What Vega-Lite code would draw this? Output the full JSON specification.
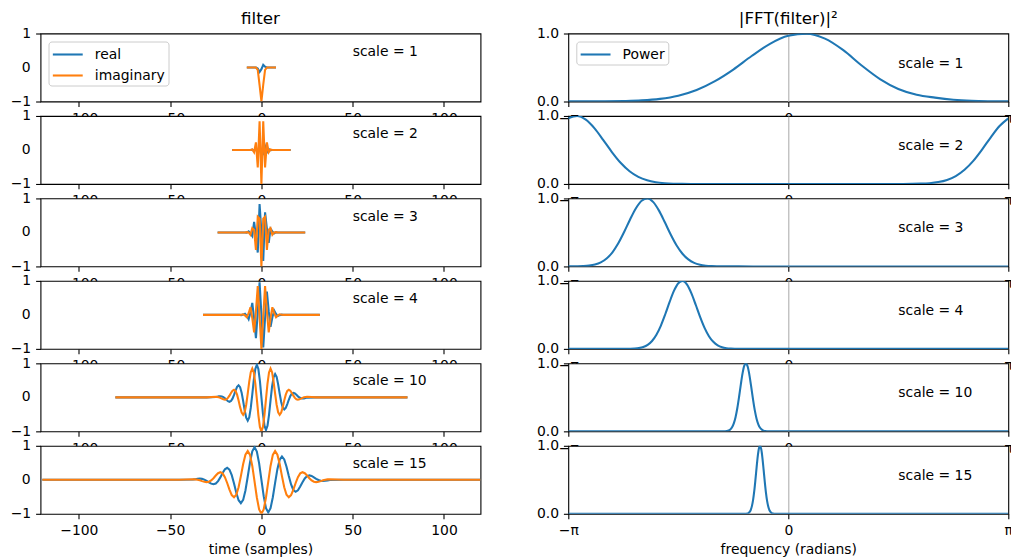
{
"$schema": "https://vega.github.io/schema/vega-lite/v6.json",
"autosize": {"type": "pad"},
"padding": {"left": 9.5, "top": 10.5, "right": 0, "bottom": 0},
"background": "white",
"config": {
  "font": "DejaVu Sans",
  "view": {"stroke": "black", "strokeWidth": 1.1, "fill": "white"},
  "axis": {"domain": false, "grid": false, "tickColor": "black", "tickWidth": 1.1, "tickSize": 4.9, "labelPadding": 4.9, "labelFontSize": 13.9, "labelColor": "black", "labelFont": "DejaVu Sans", "labelFlush": false, "labelOverlap": false, "titleFont": "DejaVu Sans", "titleFontSize": 13.9, "titleFontWeight": "normal", "titleColor": "black", "titlePadding": 5},
  "legend": {"padding": 3, "offset": 7.5, "fillColor": "rgba(255,255,255,0.8)", "strokeColor": "#cccccc", "strokeWidth": 1, "cornerRadius": 3, "symbolType": "M-1,0H2.45", "symbolStrokeWidth": 2.08, "symbolSize": 300, "labelFontSize": 13.9, "labelColor": "black", "labelFont": "DejaVu Sans", "labelOffset": 23.3, "rowPadding": 4},
  "title": {"font": "DejaVu Sans", "fontSize": 16.7, "fontWeight": "normal", "color": "black", "offset": -1.6, "baseline": "alphabetic"}
},
"datasets": {
"filt": [
{"scale":1,"t":-8,"real":0,"imaginary":0},
{"scale":1,"t":-3,"real":0,"imaginary":-0.002},
{"scale":1,"t":-2,"real":-0.032,"imaginary":-0.07},
{"scale":1,"t":-1,"real":-0.132,"imaginary":-0.519},
{"scale":1,"t":0,"real":-0.049,"imaginary":-1},
{"scale":1,"t":1,"real":0.081,"imaginary":-0.507},
{"scale":1,"t":2,"real":0.025,"imaginary":-0.068},
{"scale":1,"t":3,"real":0,"imaginary":-0.002},
{"scale":1,"t":8,"real":0,"imaginary":0},
{"scale":2,"t":-16,"real":0,"imaginary":0},
{"scale":2,"t":-6,"real":0,"imaginary":0},
{"scale":2,"t":-5,"real":0.008,"imaginary":0.016},
{"scale":2,"t":-4,"real":-0.029,"imaginary":-0.069},
{"scale":2,"t":-3,"real":0.071,"imaginary":0.223},
{"scale":2,"t":-2,"real":-0.109,"imaginary":-0.513},
{"scale":2,"t":-1,"real":0.09,"imaginary":0.846},
{"scale":2,"t":0,"real":0,"imaginary":-1},
{"scale":2,"t":1,"real":-0.09,"imaginary":0.846},
{"scale":2,"t":2,"real":0.109,"imaginary":-0.513},
{"scale":2,"t":3,"real":-0.071,"imaginary":0.223},
{"scale":2,"t":4,"real":0.029,"imaginary":-0.069},
{"scale":2,"t":5,"real":-0.008,"imaginary":0.016},
{"scale":2,"t":6,"real":0,"imaginary":0},
{"scale":2,"t":16,"real":0,"imaginary":0},
{"scale":3,"t":-24,"real":0,"imaginary":0},
{"scale":3,"t":-9,"real":0,"imaginary":0},
{"scale":3,"t":-8,"real":-0.005,"imaginary":0.009},
{"scale":3,"t":-7,"real":0.03,"imaginary":0.002},
{"scale":3,"t":-6,"real":-0.029,"imaginary":-0.069},
{"scale":3,"t":-5,"real":-0.108,"imaginary":0.127},
{"scale":3,"t":-4,"real":0.308,"imaginary":0.078},
{"scale":3,"t":-3,"real":-0.109,"imaginary":-0.513},
{"scale":3,"t":-2,"real":-0.591,"imaginary":0.463},
{"scale":3,"t":-1,"real":0.837,"imaginary":0.407},
{"scale":3,"t":0,"real":0,"imaginary":-1},
{"scale":3,"t":1,"real":-0.837,"imaginary":0.407},
{"scale":3,"t":2,"real":0.591,"imaginary":0.463},
{"scale":3,"t":3,"real":0.109,"imaginary":-0.513},
{"scale":3,"t":4,"real":-0.308,"imaginary":0.078},
{"scale":3,"t":5,"real":0.108,"imaginary":0.127},
{"scale":3,"t":6,"real":0.029,"imaginary":-0.069},
{"scale":3,"t":7,"real":-0.03,"imaginary":0.002},
{"scale":3,"t":8,"real":0.005,"imaginary":0.009},
{"scale":3,"t":9,"real":0,"imaginary":0},
{"scale":3,"t":24,"real":0,"imaginary":0},
{"scale":4,"t":-32,"real":0,"imaginary":0},
{"scale":4,"t":-12,"real":0,"imaginary":0},
{"scale":4,"t":-11,"real":-0.006,"imaginary":0.004},
{"scale":4,"t":-10,"real":0.008,"imaginary":0.016},
{"scale":4,"t":-9,"real":0.034,"imaginary":-0.016},
{"scale":4,"t":-8,"real":-0.029,"imaginary":-0.069},
{"scale":4,"t":-7,"real":-0.13,"imaginary":0.048},
{"scale":4,"t":-6,"real":0.071,"imaginary":0.223},
{"scale":4,"t":-5,"real":0.353,"imaginary":-0.094},
{"scale":4,"t":-4,"real":-0.109,"imaginary":-0.513},
{"scale":4,"t":-3,"real":-0.687,"imaginary":0.109},
{"scale":4,"t":-2,"real":0.09,"imaginary":0.846},
{"scale":4,"t":-1,"real":0.959,"imaginary":-0.051},
{"scale":4,"t":0,"real":0,"imaginary":-1},
{"scale":4,"t":1,"real":-0.959,"imaginary":-0.051},
{"scale":4,"t":2,"real":-0.09,"imaginary":0.846},
{"scale":4,"t":3,"real":0.687,"imaginary":0.109},
{"scale":4,"t":4,"real":0.109,"imaginary":-0.513},
{"scale":4,"t":5,"real":-0.353,"imaginary":-0.094},
{"scale":4,"t":6,"real":-0.071,"imaginary":0.223},
{"scale":4,"t":7,"real":0.13,"imaginary":0.048},
{"scale":4,"t":8,"real":0.029,"imaginary":-0.069},
{"scale":4,"t":9,"real":-0.034,"imaginary":-0.016},
{"scale":4,"t":10,"real":-0.008,"imaginary":0.016},
{"scale":4,"t":11,"real":0.006,"imaginary":0.004},
{"scale":4,"t":12,"real":0,"imaginary":0},
{"scale":4,"t":32,"real":0,"imaginary":0},
{"scale":10,"t":-80,"real":0,"imaginary":0},
{"scale":10,"t":-30,"real":0,"imaginary":0},
{"scale":10,"t":-25,"real":0.008,"imaginary":0.016},
{"scale":10,"t":-24.167,"real":0.019,"imaginary":0.012},
{"scale":10,"t":-23.333,"real":0.03,"imaginary":0.002},
{"scale":10,"t":-22.5,"real":0.034,"imaginary":-0.016},
{"scale":10,"t":-21.667,"real":0.028,"imaginary":-0.039},
{"scale":10,"t":-20.833,"real":0.006,"imaginary":-0.06},
{"scale":10,"t":-20,"real":-0.029,"imaginary":-0.069},
{"scale":10,"t":-19.167,"real":-0.074,"imaginary":-0.057},
{"scale":10,"t":-18.333,"real":-0.113,"imaginary":-0.017},
{"scale":10,"t":-17.5,"real":-0.13,"imaginary":0.048},
{"scale":10,"t":-16.667,"real":-0.108,"imaginary":0.127},
{"scale":10,"t":-15.833,"real":-0.039,"imaginary":0.194},
{"scale":10,"t":-15,"real":0.071,"imaginary":0.223},
{"scale":10,"t":-14.167,"real":0.199,"imaginary":0.188},
{"scale":10,"t":-13.333,"real":0.308,"imaginary":0.078},
{"scale":10,"t":-12.5,"real":0.353,"imaginary":-0.094},
{"scale":10,"t":-11.667,"real":0.3,"imaginary":-0.288},
{"scale":10,"t":-10.833,"real":0.138,"imaginary":-0.449},
{"scale":10,"t":-10,"real":-0.109,"imaginary":-0.513},
{"scale":10,"t":-9.167,"real":-0.382,"imaginary":-0.439},
{"scale":10,"t":-8.333,"real":-0.601,"imaginary":-0.218},
{"scale":10,"t":-7.5,"real":-0.687,"imaginary":0.109},
{"scale":10,"t":-6.667,"real":-0.591,"imaginary":0.463},
{"scale":10,"t":-5.833,"real":-0.313,"imaginary":0.74},
{"scale":10,"t":-5,"real":0.09,"imaginary":0.846},
{"scale":10,"t":-4.167,"real":0.514,"imaginary":0.732},
{"scale":10,"t":-3.333,"real":0.837,"imaginary":0.407},
{"scale":10,"t":-2.5,"real":0.959,"imaginary":-0.051},
{"scale":10,"t":-1.667,"real":0.833,"imaginary":-0.521},
{"scale":10,"t":-0.833,"real":0.482,"imaginary":-0.871},
{"scale":10,"t":0,"real":0,"imaginary":-1},
{"scale":10,"t":0.833,"real":-0.482,"imaginary":-0.871},
{"scale":10,"t":1.667,"real":-0.833,"imaginary":-0.521},
{"scale":10,"t":2.5,"real":-0.959,"imaginary":-0.051},
{"scale":10,"t":3.333,"real":-0.837,"imaginary":0.407},
{"scale":10,"t":4.167,"real":-0.514,"imaginary":0.732},
{"scale":10,"t":5,"real":-0.09,"imaginary":0.846},
{"scale":10,"t":5.833,"real":0.313,"imaginary":0.74},
{"scale":10,"t":6.667,"real":0.591,"imaginary":0.463},
{"scale":10,"t":7.5,"real":0.687,"imaginary":0.109},
{"scale":10,"t":8.333,"real":0.601,"imaginary":-0.218},
{"scale":10,"t":9.167,"real":0.382,"imaginary":-0.439},
{"scale":10,"t":10,"real":0.109,"imaginary":-0.513},
{"scale":10,"t":10.833,"real":-0.138,"imaginary":-0.449},
{"scale":10,"t":11.667,"real":-0.3,"imaginary":-0.288},
{"scale":10,"t":12.5,"real":-0.353,"imaginary":-0.094},
{"scale":10,"t":13.333,"real":-0.308,"imaginary":0.078},
{"scale":10,"t":14.167,"real":-0.199,"imaginary":0.188},
{"scale":10,"t":15,"real":-0.071,"imaginary":0.223},
{"scale":10,"t":15.833,"real":0.039,"imaginary":0.194},
{"scale":10,"t":16.667,"real":0.108,"imaginary":0.127},
{"scale":10,"t":17.5,"real":0.13,"imaginary":0.048},
{"scale":10,"t":18.333,"real":0.113,"imaginary":-0.017},
{"scale":10,"t":19.167,"real":0.074,"imaginary":-0.057},
{"scale":10,"t":20,"real":0.029,"imaginary":-0.069},
{"scale":10,"t":20.833,"real":-0.006,"imaginary":-0.06},
{"scale":10,"t":21.667,"real":-0.028,"imaginary":-0.039},
{"scale":10,"t":22.5,"real":-0.034,"imaginary":-0.016},
{"scale":10,"t":23.333,"real":-0.03,"imaginary":0.002},
{"scale":10,"t":24.167,"real":-0.019,"imaginary":0.012},
{"scale":10,"t":25,"real":-0.008,"imaginary":0.016},
{"scale":10,"t":30,"real":0,"imaginary":0},
{"scale":10,"t":80,"real":0,"imaginary":0},
{"scale":15,"t":-120,"real":0,"imaginary":0},
{"scale":15,"t":-45,"real":0,"imaginary":0},
{"scale":15,"t":-37.5,"real":0.008,"imaginary":0.016},
{"scale":15,"t":-36.25,"real":0.019,"imaginary":0.012},
{"scale":15,"t":-35,"real":0.03,"imaginary":0.002},
{"scale":15,"t":-33.75,"real":0.034,"imaginary":-0.016},
{"scale":15,"t":-32.5,"real":0.028,"imaginary":-0.039},
{"scale":15,"t":-31.25,"real":0.006,"imaginary":-0.06},
{"scale":15,"t":-30,"real":-0.029,"imaginary":-0.069},
{"scale":15,"t":-28.75,"real":-0.074,"imaginary":-0.057},
{"scale":15,"t":-27.5,"real":-0.113,"imaginary":-0.017},
{"scale":15,"t":-26.25,"real":-0.13,"imaginary":0.048},
{"scale":15,"t":-25,"real":-0.108,"imaginary":0.127},
{"scale":15,"t":-23.75,"real":-0.039,"imaginary":0.194},
{"scale":15,"t":-22.5,"real":0.071,"imaginary":0.223},
{"scale":15,"t":-21.25,"real":0.199,"imaginary":0.188},
{"scale":15,"t":-20,"real":0.308,"imaginary":0.078},
{"scale":15,"t":-18.75,"real":0.353,"imaginary":-0.094},
{"scale":15,"t":-17.5,"real":0.3,"imaginary":-0.288},
{"scale":15,"t":-16.25,"real":0.138,"imaginary":-0.449},
{"scale":15,"t":-15,"real":-0.109,"imaginary":-0.513},
{"scale":15,"t":-13.75,"real":-0.382,"imaginary":-0.439},
{"scale":15,"t":-12.5,"real":-0.601,"imaginary":-0.218},
{"scale":15,"t":-11.25,"real":-0.687,"imaginary":0.109},
{"scale":15,"t":-10,"real":-0.591,"imaginary":0.463},
{"scale":15,"t":-8.75,"real":-0.313,"imaginary":0.74},
{"scale":15,"t":-7.5,"real":0.09,"imaginary":0.846},
{"scale":15,"t":-6.25,"real":0.514,"imaginary":0.732},
{"scale":15,"t":-5,"real":0.837,"imaginary":0.407},
{"scale":15,"t":-3.75,"real":0.959,"imaginary":-0.051},
{"scale":15,"t":-2.5,"real":0.833,"imaginary":-0.521},
{"scale":15,"t":-1.25,"real":0.482,"imaginary":-0.871},
{"scale":15,"t":0,"real":0,"imaginary":-1},
{"scale":15,"t":1.25,"real":-0.482,"imaginary":-0.871},
{"scale":15,"t":2.5,"real":-0.833,"imaginary":-0.521},
{"scale":15,"t":3.75,"real":-0.959,"imaginary":-0.051},
{"scale":15,"t":5,"real":-0.837,"imaginary":0.407},
{"scale":15,"t":6.25,"real":-0.514,"imaginary":0.732},
{"scale":15,"t":7.5,"real":-0.09,"imaginary":0.846},
{"scale":15,"t":8.75,"real":0.313,"imaginary":0.74},
{"scale":15,"t":10,"real":0.591,"imaginary":0.463},
{"scale":15,"t":11.25,"real":0.687,"imaginary":0.109},
{"scale":15,"t":12.5,"real":0.601,"imaginary":-0.218},
{"scale":15,"t":13.75,"real":0.382,"imaginary":-0.439},
{"scale":15,"t":15,"real":0.109,"imaginary":-0.513},
{"scale":15,"t":16.25,"real":-0.138,"imaginary":-0.449},
{"scale":15,"t":17.5,"real":-0.3,"imaginary":-0.288},
{"scale":15,"t":18.75,"real":-0.353,"imaginary":-0.094},
{"scale":15,"t":20,"real":-0.308,"imaginary":0.078},
{"scale":15,"t":21.25,"real":-0.199,"imaginary":0.188},
{"scale":15,"t":22.5,"real":-0.071,"imaginary":0.223},
{"scale":15,"t":23.75,"real":0.039,"imaginary":0.194},
{"scale":15,"t":25,"real":0.108,"imaginary":0.127},
{"scale":15,"t":26.25,"real":0.13,"imaginary":0.048},
{"scale":15,"t":27.5,"real":0.113,"imaginary":-0.017},
{"scale":15,"t":28.75,"real":0.074,"imaginary":-0.057},
{"scale":15,"t":30,"real":0.029,"imaginary":-0.069},
{"scale":15,"t":31.25,"real":-0.006,"imaginary":-0.06},
{"scale":15,"t":32.5,"real":-0.028,"imaginary":-0.039},
{"scale":15,"t":33.75,"real":-0.034,"imaginary":-0.016},
{"scale":15,"t":35,"real":-0.03,"imaginary":0.002},
{"scale":15,"t":36.25,"real":-0.019,"imaginary":0.012},
{"scale":15,"t":37.5,"real":-0.008,"imaginary":0.016},
{"scale":15,"t":45,"real":0,"imaginary":0},
{"scale":15,"t":120,"real":0,"imaginary":0}
],
"pow": [
{"scale":1,"f":-3.1416,"p":0.003},
{"scale":1,"f":-2.8798,"p":0.002},
{"scale":1,"f":-2.618,"p":0.003},
{"scale":1,"f":-2.3562,"p":0.007},
{"scale":1,"f":-2.0944,"p":0.016},
{"scale":1,"f":-1.8326,"p":0.039},
{"scale":1,"f":-1.5708,"p":0.086},
{"scale":1,"f":-1.309,"p":0.17},
{"scale":1,"f":-1.0472,"p":0.3},
{"scale":1,"f":-0.7854,"p":0.47},
{"scale":1,"f":-0.5236,"p":0.669},
{"scale":1,"f":-0.2618,"p":0.848},
{"scale":1,"f":0,"p":0.966},
{"scale":1,"f":0.2618,"p":0.998},
{"scale":1,"f":0.5236,"p":0.925},
{"scale":1,"f":0.7854,"p":0.755},
{"scale":1,"f":1.0472,"p":0.53},
{"scale":1,"f":1.309,"p":0.33},
{"scale":1,"f":1.5708,"p":0.185},
{"scale":1,"f":1.8326,"p":0.1},
{"scale":1,"f":2.0944,"p":0.057},
{"scale":1,"f":2.3562,"p":0.026},
{"scale":1,"f":2.618,"p":0.01},
{"scale":1,"f":2.8798,"p":0.004},
{"scale":1,"f":3.1416,"p":0.002},
{"scale":2,"f":-3.1416,"p":0.965},
{"scale":2,"f":-3.0166,"p":0.999},
{"scale":2,"f":-2.8916,"p":0.945},
{"scale":2,"f":-2.7666,"p":0.817},
{"scale":2,"f":-2.6416,"p":0.645},
{"scale":2,"f":-2.5166,"p":0.466},
{"scale":2,"f":-2.3916,"p":0.308},
{"scale":2,"f":-2.2666,"p":0.187},
{"scale":2,"f":-2.1416,"p":0.104},
{"scale":2,"f":-2.0166,"p":0.053},
{"scale":2,"f":-1.8916,"p":0.025},
{"scale":2,"f":-1.7666,"p":0.011},
{"scale":2,"f":-1.6416,"p":0.004},
{"scale":2,"f":-1.5166,"p":0.0015},
{"scale":2,"f":-1.3916,"p":0.0005},
{"scale":2,"f":-1.1,"p":0},
{"scale":2,"f":0,"p":0},
{"scale":2,"f":1.1,"p":0},
{"scale":2,"f":1.3916,"p":0},
{"scale":2,"f":1.5166,"p":0.0002},
{"scale":2,"f":1.6416,"p":0.0005},
{"scale":2,"f":1.7666,"p":0.0016},
{"scale":2,"f":1.8916,"p":0.0046},
{"scale":2,"f":2.0166,"p":0.0117},
{"scale":2,"f":2.1416,"p":0.0277},
{"scale":2,"f":2.2666,"p":0.0594},
{"scale":2,"f":2.3916,"p":0.1164},
{"scale":2,"f":2.5166,"p":0.2081},
{"scale":2,"f":2.6416,"p":0.3395},
{"scale":2,"f":2.7666,"p":0.5054},
{"scale":2,"f":2.8916,"p":0.6868},
{"scale":2,"f":3.0166,"p":0.8521},
{"scale":2,"f":3.1416,"p":0.9654},
{"scale":3,"f":-3.1416,"p":0.0003},
{"scale":3,"f":-3.0944,"p":0.0005},
{"scale":3,"f":-3.0111,"p":0.0016},
{"scale":3,"f":-2.9277,"p":0.0046},
{"scale":3,"f":-2.8444,"p":0.0117},
{"scale":3,"f":-2.7611,"p":0.0277},
{"scale":3,"f":-2.6777,"p":0.0594},
{"scale":3,"f":-2.5944,"p":0.1164},
{"scale":3,"f":-2.5111,"p":0.2081},
{"scale":3,"f":-2.4277,"p":0.3395},
{"scale":3,"f":-2.3444,"p":0.5054},
{"scale":3,"f":-2.2611,"p":0.6868},
{"scale":3,"f":-2.1777,"p":0.8521},
{"scale":3,"f":-2.0944,"p":0.9654},
{"scale":3,"f":-2.0111,"p":0.9992},
{"scale":3,"f":-1.9277,"p":0.945},
{"scale":3,"f":-1.8444,"p":0.8166},
{"scale":3,"f":-1.7611,"p":0.6451},
{"scale":3,"f":-1.6777,"p":0.4662},
{"scale":3,"f":-1.5944,"p":0.3082},
{"scale":3,"f":-1.5111,"p":0.1866},
{"scale":3,"f":-1.4277,"p":0.1035},
{"scale":3,"f":-1.3444,"p":0.0526},
{"scale":3,"f":-1.2611,"p":0.0245},
{"scale":3,"f":-1.1777,"p":0.0105},
{"scale":3,"f":-1.0944,"p":0.0041},
{"scale":3,"f":-1.0111,"p":0.0015},
{"scale":3,"f":-0.9277,"p":0.0005},
{"scale":3,"f":-0.5,"p":0},
{"scale":3,"f":3.1416,"p":0},
{"scale":4,"f":-3.1416,"p":0},
{"scale":4,"f":-2.5,"p":0},
{"scale":4,"f":-2.3208,"p":0.0005},
{"scale":4,"f":-2.2583,"p":0.0016},
{"scale":4,"f":-2.1958,"p":0.0046},
{"scale":4,"f":-2.1333,"p":0.0117},
{"scale":4,"f":-2.0708,"p":0.0277},
{"scale":4,"f":-2.0083,"p":0.0594},
{"scale":4,"f":-1.9458,"p":0.1164},
{"scale":4,"f":-1.8833,"p":0.2081},
{"scale":4,"f":-1.8208,"p":0.3395},
{"scale":4,"f":-1.7583,"p":0.5054},
{"scale":4,"f":-1.6958,"p":0.6868},
{"scale":4,"f":-1.6333,"p":0.8521},
{"scale":4,"f":-1.5708,"p":0.9654},
{"scale":4,"f":-1.5083,"p":0.9992},
{"scale":4,"f":-1.4458,"p":0.945},
{"scale":4,"f":-1.3833,"p":0.8166},
{"scale":4,"f":-1.3208,"p":0.6451},
{"scale":4,"f":-1.2583,"p":0.4662},
{"scale":4,"f":-1.1958,"p":0.3082},
{"scale":4,"f":-1.1333,"p":0.1866},
{"scale":4,"f":-1.0708,"p":0.1035},
{"scale":4,"f":-1.0083,"p":0.0526},
{"scale":4,"f":-0.9458,"p":0.0245},
{"scale":4,"f":-0.8833,"p":0.0105},
{"scale":4,"f":-0.8208,"p":0.0041},
{"scale":4,"f":-0.7583,"p":0.0015},
{"scale":4,"f":-0.6958,"p":0.0005},
{"scale":4,"f":-0.4,"p":0},
{"scale":4,"f":3.1416,"p":0},
{"scale":10,"f":-3.1416,"p":0},
{"scale":10,"f":-1.1,"p":0},
{"scale":10,"f":-0.9283,"p":0.0005},
{"scale":10,"f":-0.9033,"p":0.0016},
{"scale":10,"f":-0.8783,"p":0.0046},
{"scale":10,"f":-0.8533,"p":0.0117},
{"scale":10,"f":-0.8283,"p":0.0277},
{"scale":10,"f":-0.8033,"p":0.0594},
{"scale":10,"f":-0.7783,"p":0.1164},
{"scale":10,"f":-0.7533,"p":0.2081},
{"scale":10,"f":-0.7283,"p":0.3395},
{"scale":10,"f":-0.7033,"p":0.5054},
{"scale":10,"f":-0.6783,"p":0.6868},
{"scale":10,"f":-0.6533,"p":0.8521},
{"scale":10,"f":-0.6283,"p":0.9654},
{"scale":10,"f":-0.6033,"p":0.9992},
{"scale":10,"f":-0.5783,"p":0.945},
{"scale":10,"f":-0.5533,"p":0.8166},
{"scale":10,"f":-0.5283,"p":0.6451},
{"scale":10,"f":-0.5033,"p":0.4662},
{"scale":10,"f":-0.4783,"p":0.3082},
{"scale":10,"f":-0.4533,"p":0.1866},
{"scale":10,"f":-0.4283,"p":0.1035},
{"scale":10,"f":-0.4033,"p":0.0526},
{"scale":10,"f":-0.3783,"p":0.0245},
{"scale":10,"f":-0.3533,"p":0.0105},
{"scale":10,"f":-0.3283,"p":0.0041},
{"scale":10,"f":-0.3033,"p":0.0015},
{"scale":10,"f":-0.2783,"p":0.0005},
{"scale":10,"f":-0.2,"p":0},
{"scale":10,"f":3.1416,"p":0},
{"scale":15,"f":-3.1416,"p":0},
{"scale":15,"f":-0.75,"p":0},
{"scale":15,"f":-0.6189,"p":0.0005},
{"scale":15,"f":-0.6022,"p":0.0016},
{"scale":15,"f":-0.5855,"p":0.0046},
{"scale":15,"f":-0.5689,"p":0.0117},
{"scale":15,"f":-0.5522,"p":0.0277},
{"scale":15,"f":-0.5355,"p":0.0594},
{"scale":15,"f":-0.5189,"p":0.1164},
{"scale":15,"f":-0.5022,"p":0.2081},
{"scale":15,"f":-0.4855,"p":0.3395},
{"scale":15,"f":-0.4689,"p":0.5054},
{"scale":15,"f":-0.4522,"p":0.6868},
{"scale":15,"f":-0.4355,"p":0.8521},
{"scale":15,"f":-0.4189,"p":0.9654},
{"scale":15,"f":-0.4022,"p":0.9992},
{"scale":15,"f":-0.3855,"p":0.945},
{"scale":15,"f":-0.3689,"p":0.8166},
{"scale":15,"f":-0.3522,"p":0.6451},
{"scale":15,"f":-0.3355,"p":0.4662},
{"scale":15,"f":-0.3189,"p":0.3082},
{"scale":15,"f":-0.3022,"p":0.1866},
{"scale":15,"f":-0.2855,"p":0.1035},
{"scale":15,"f":-0.2689,"p":0.0526},
{"scale":15,"f":-0.2522,"p":0.0245},
{"scale":15,"f":-0.2355,"p":0.0105},
{"scale":15,"f":-0.2189,"p":0.0041},
{"scale":15,"f":-0.2022,"p":0.0015},
{"scale":15,"f":-0.1855,"p":0.0005},
{"scale":15,"f":-0.12,"p":0},
{"scale":15,"f":3.1416,"p":0}
]
},
"columns": 2,
"spacing": {"row": 14.46, "column": 87.8},
"bounds": "flush",
"resolve": {"scale": {"color": "independent", "x": "independent", "y": "independent"}, "legend": {"color": "independent"}},
"concat": [
{"width": 440, "height": 68, "title": {"text": "filter"},
 "layer": [
  {"data": {"name": "filt"}, "transform": [{"filter": "datum.scale == 1"}, {"fold": ["real", "imaginary"], "as": ["part", "value"]}], "mark": {"type": "line", "strokeWidth": 2.08, "clip": true},
   "encoding": {"x": {"field": "t", "type": "quantitative", "scale": {"domain": [-121, 120], "nice": false, "zero": false}, "axis": {"values": [-100, -50, 0, 50, 100], "format": "d", "title": null}},
    "y": {"field": "value", "type": "quantitative", "scale": {"domain": [-1, 1], "nice": false, "zero": false}, "axis": {"values": [-1, 0, 1], "labelExpr": "datum.value > 0.5 ? '1' : (datum.value < -0.5 ? '−1' : '0')", "labelOverlap": false, "title": null}},
    "color": {"field": "part", "type": "nominal", "scale": {"domain": ["real", "imaginary"], "range": ["#1f77b4", "#ff7f0e"]}, "legend": {"orient": "top-left", "title": null}}}},
  {"data": {"values": [{"label": "scale = 1"}]}, "mark": {"type": "text", "align": "left", "baseline": "alphabetic", "fontSize": 13.9, "color": "black"},
   "encoding": {"x": {"datum": 50}, "y": {"datum": 0.35}, "text": {"field": "label"}}},
  {"data": {"values": [{"tick": "0"}]}, "mark": {"type": "text", "align": "right", "baseline": "middle", "dx": -9.8, "fontSize": 13.9, "color": "black", "clip": false},
   "encoding": {"x": {"datum": -121}, "y": {"datum": 0}, "text": {"field": "tick"}}}
 ]},
{"width": 440, "height": 68, "title": {"text": "|FFT(filter)|²"},
 "layer": [
  {"data": {"name": "pow"}, "transform": [{"filter": "datum.scale == 1"}], "mark": {"type": "line", "strokeWidth": 2.08, "clip": true, "interpolate": "monotone"},
   "encoding": {"x": {"field": "f", "type": "quantitative", "scale": {"domain": [-3.14159265, 3.14159265], "nice": false, "zero": false}, "axis": {"values": [-3.14159265, 0, 3.14159265], "labelExpr": "datum.value < -1 ? '−π' : (datum.value > 1 ? 'π' : '0')", "grid": true, "gridColor": "#b0b0b0", "gridWidth": 1.1, "gridOpacity": {"condition": {"test": "abs(datum.value) > 1", "value": 0}, "value": 1}, "title": null}},
    "y": {"field": "p", "type": "quantitative", "scale": {"domain": [0, 1], "nice": false, "zero": false}, "axis": {"values": [0, 0.5, 1], "format": ".1f", "title": null}},
    "color": {"datum": "Power", "type": "nominal", "scale": {"domain": ["Power"], "range": ["#1f77b4"]}, "legend": {"orient": "top-left", "title": null}}}},
  {"data": {"values": [{"label": "scale = 1"}]}, "mark": {"type": "text", "align": "left", "baseline": "alphabetic", "fontSize": 13.9, "color": "black"},
   "encoding": {"x": {"datum": 1.5708}, "y": {"datum": 0.5}, "text": {"field": "label"}}}
 ]},
{"width": 440, "height": 68,
 "layer": [
  {"data": {"name": "filt"}, "transform": [{"filter": "datum.scale == 2"}, {"fold": ["real", "imaginary"], "as": ["part", "value"]}], "mark": {"type": "line", "strokeWidth": 2.08, "clip": true},
   "encoding": {"x": {"field": "t", "type": "quantitative", "scale": {"domain": [-121, 120], "nice": false, "zero": false}, "axis": {"values": [-100, -50, 0, 50, 100], "format": "d", "title": null}},
    "y": {"field": "value", "type": "quantitative", "scale": {"domain": [-1, 1], "nice": false, "zero": false}, "axis": {"values": [-1, 0, 1], "labelExpr": "datum.value > 0.5 ? '1' : (datum.value < -0.5 ? '−1' : '0')", "labelOverlap": false, "title": null}},
    "color": {"field": "part", "type": "nominal", "scale": {"domain": ["real", "imaginary"], "range": ["#1f77b4", "#ff7f0e"]}, "legend": null}}},
  {"data": {"values": [{"label": "scale = 2"}]}, "mark": {"type": "text", "align": "left", "baseline": "alphabetic", "fontSize": 13.9, "color": "black"},
   "encoding": {"x": {"datum": 50}, "y": {"datum": 0.35}, "text": {"field": "label"}}},
  {"data": {"values": [{"tick": "0"}]}, "mark": {"type": "text", "align": "right", "baseline": "middle", "dx": -9.8, "fontSize": 13.9, "color": "black", "clip": false},
   "encoding": {"x": {"datum": -121}, "y": {"datum": 0}, "text": {"field": "tick"}}}
 ]},
{"width": 440, "height": 68,
 "layer": [
  {"data": {"name": "pow"}, "transform": [{"filter": "datum.scale == 2"}], "mark": {"type": "line", "strokeWidth": 2.08, "clip": true, "interpolate": "monotone"},
   "encoding": {"x": {"field": "f", "type": "quantitative", "scale": {"domain": [-3.14159265, 3.14159265], "nice": false, "zero": false}, "axis": {"values": [-3.14159265, 0, 3.14159265], "labelExpr": "datum.value < -1 ? '−π' : (datum.value > 1 ? 'π' : '0')", "grid": true, "gridColor": "#b0b0b0", "gridWidth": 1.1, "gridOpacity": {"condition": {"test": "abs(datum.value) > 1", "value": 0}, "value": 1}, "title": null}},
    "y": {"field": "p", "type": "quantitative", "scale": {"domain": [0, 1], "nice": false, "zero": false}, "axis": {"values": [0, 0.5, 1], "format": ".1f", "title": null}},
    "color": {"datum": "Power", "type": "nominal", "scale": {"domain": ["Power"], "range": ["#1f77b4"]}, "legend": null}}},
  {"data": {"values": [{"label": "scale = 2"}]}, "mark": {"type": "text", "align": "left", "baseline": "alphabetic", "fontSize": 13.9, "color": "black"},
   "encoding": {"x": {"datum": 1.5708}, "y": {"datum": 0.5}, "text": {"field": "label"}}}
 ]},
{"width": 440, "height": 68,
 "layer": [
  {"data": {"name": "filt"}, "transform": [{"filter": "datum.scale == 3"}, {"fold": ["real", "imaginary"], "as": ["part", "value"]}], "mark": {"type": "line", "strokeWidth": 2.08, "clip": true},
   "encoding": {"x": {"field": "t", "type": "quantitative", "scale": {"domain": [-121, 120], "nice": false, "zero": false}, "axis": {"values": [-100, -50, 0, 50, 100], "format": "d", "title": null}},
    "y": {"field": "value", "type": "quantitative", "scale": {"domain": [-1, 1], "nice": false, "zero": false}, "axis": {"values": [-1, 0, 1], "labelExpr": "datum.value > 0.5 ? '1' : (datum.value < -0.5 ? '−1' : '0')", "labelOverlap": false, "title": null}},
    "color": {"field": "part", "type": "nominal", "scale": {"domain": ["real", "imaginary"], "range": ["#1f77b4", "#ff7f0e"]}, "legend": null}}},
  {"data": {"values": [{"label": "scale = 3"}]}, "mark": {"type": "text", "align": "left", "baseline": "alphabetic", "fontSize": 13.9, "color": "black"},
   "encoding": {"x": {"datum": 50}, "y": {"datum": 0.35}, "text": {"field": "label"}}},
  {"data": {"values": [{"tick": "0"}]}, "mark": {"type": "text", "align": "right", "baseline": "middle", "dx": -9.8, "fontSize": 13.9, "color": "black", "clip": false},
   "encoding": {"x": {"datum": -121}, "y": {"datum": 0}, "text": {"field": "tick"}}}
 ]},
{"width": 440, "height": 68,
 "layer": [
  {"data": {"name": "pow"}, "transform": [{"filter": "datum.scale == 3"}], "mark": {"type": "line", "strokeWidth": 2.08, "clip": true, "interpolate": "monotone"},
   "encoding": {"x": {"field": "f", "type": "quantitative", "scale": {"domain": [-3.14159265, 3.14159265], "nice": false, "zero": false}, "axis": {"values": [-3.14159265, 0, 3.14159265], "labelExpr": "datum.value < -1 ? '−π' : (datum.value > 1 ? 'π' : '0')", "grid": true, "gridColor": "#b0b0b0", "gridWidth": 1.1, "gridOpacity": {"condition": {"test": "abs(datum.value) > 1", "value": 0}, "value": 1}, "title": null}},
    "y": {"field": "p", "type": "quantitative", "scale": {"domain": [0, 1], "nice": false, "zero": false}, "axis": {"values": [0, 0.5, 1], "format": ".1f", "title": null}},
    "color": {"datum": "Power", "type": "nominal", "scale": {"domain": ["Power"], "range": ["#1f77b4"]}, "legend": null}}},
  {"data": {"values": [{"label": "scale = 3"}]}, "mark": {"type": "text", "align": "left", "baseline": "alphabetic", "fontSize": 13.9, "color": "black"},
   "encoding": {"x": {"datum": 1.5708}, "y": {"datum": 0.5}, "text": {"field": "label"}}}
 ]},
{"width": 440, "height": 68,
 "layer": [
  {"data": {"name": "filt"}, "transform": [{"filter": "datum.scale == 4"}, {"fold": ["real", "imaginary"], "as": ["part", "value"]}], "mark": {"type": "line", "strokeWidth": 2.08, "clip": true},
   "encoding": {"x": {"field": "t", "type": "quantitative", "scale": {"domain": [-121, 120], "nice": false, "zero": false}, "axis": {"values": [-100, -50, 0, 50, 100], "format": "d", "title": null}},
    "y": {"field": "value", "type": "quantitative", "scale": {"domain": [-1, 1], "nice": false, "zero": false}, "axis": {"values": [-1, 0, 1], "labelExpr": "datum.value > 0.5 ? '1' : (datum.value < -0.5 ? '−1' : '0')", "labelOverlap": false, "title": null}},
    "color": {"field": "part", "type": "nominal", "scale": {"domain": ["real", "imaginary"], "range": ["#1f77b4", "#ff7f0e"]}, "legend": null}}},
  {"data": {"values": [{"label": "scale = 4"}]}, "mark": {"type": "text", "align": "left", "baseline": "alphabetic", "fontSize": 13.9, "color": "black"},
   "encoding": {"x": {"datum": 50}, "y": {"datum": 0.35}, "text": {"field": "label"}}},
  {"data": {"values": [{"tick": "0"}]}, "mark": {"type": "text", "align": "right", "baseline": "middle", "dx": -9.8, "fontSize": 13.9, "color": "black", "clip": false},
   "encoding": {"x": {"datum": -121}, "y": {"datum": 0}, "text": {"field": "tick"}}}
 ]},
{"width": 440, "height": 68,
 "layer": [
  {"data": {"name": "pow"}, "transform": [{"filter": "datum.scale == 4"}], "mark": {"type": "line", "strokeWidth": 2.08, "clip": true, "interpolate": "monotone"},
   "encoding": {"x": {"field": "f", "type": "quantitative", "scale": {"domain": [-3.14159265, 3.14159265], "nice": false, "zero": false}, "axis": {"values": [-3.14159265, 0, 3.14159265], "labelExpr": "datum.value < -1 ? '−π' : (datum.value > 1 ? 'π' : '0')", "grid": true, "gridColor": "#b0b0b0", "gridWidth": 1.1, "gridOpacity": {"condition": {"test": "abs(datum.value) > 1", "value": 0}, "value": 1}, "title": null}},
    "y": {"field": "p", "type": "quantitative", "scale": {"domain": [0, 1], "nice": false, "zero": false}, "axis": {"values": [0, 0.5, 1], "format": ".1f", "title": null}},
    "color": {"datum": "Power", "type": "nominal", "scale": {"domain": ["Power"], "range": ["#1f77b4"]}, "legend": null}}},
  {"data": {"values": [{"label": "scale = 4"}]}, "mark": {"type": "text", "align": "left", "baseline": "alphabetic", "fontSize": 13.9, "color": "black"},
   "encoding": {"x": {"datum": 1.5708}, "y": {"datum": 0.5}, "text": {"field": "label"}}}
 ]},
{"width": 440, "height": 68,
 "layer": [
  {"data": {"name": "filt"}, "transform": [{"filter": "datum.scale == 10"}, {"fold": ["real", "imaginary"], "as": ["part", "value"]}], "mark": {"type": "line", "strokeWidth": 2.08, "clip": true},
   "encoding": {"x": {"field": "t", "type": "quantitative", "scale": {"domain": [-121, 120], "nice": false, "zero": false}, "axis": {"values": [-100, -50, 0, 50, 100], "format": "d", "title": null}},
    "y": {"field": "value", "type": "quantitative", "scale": {"domain": [-1, 1], "nice": false, "zero": false}, "axis": {"values": [-1, 0, 1], "labelExpr": "datum.value > 0.5 ? '1' : (datum.value < -0.5 ? '−1' : '0')", "labelOverlap": false, "title": null}},
    "color": {"field": "part", "type": "nominal", "scale": {"domain": ["real", "imaginary"], "range": ["#1f77b4", "#ff7f0e"]}, "legend": null}}},
  {"data": {"values": [{"label": "scale = 10"}]}, "mark": {"type": "text", "align": "left", "baseline": "alphabetic", "fontSize": 13.9, "color": "black"},
   "encoding": {"x": {"datum": 50}, "y": {"datum": 0.35}, "text": {"field": "label"}}},
  {"data": {"values": [{"tick": "0"}]}, "mark": {"type": "text", "align": "right", "baseline": "middle", "dx": -9.8, "fontSize": 13.9, "color": "black", "clip": false},
   "encoding": {"x": {"datum": -121}, "y": {"datum": 0}, "text": {"field": "tick"}}}
 ]},
{"width": 440, "height": 68,
 "layer": [
  {"data": {"name": "pow"}, "transform": [{"filter": "datum.scale == 10"}], "mark": {"type": "line", "strokeWidth": 2.08, "clip": true, "interpolate": "monotone"},
   "encoding": {"x": {"field": "f", "type": "quantitative", "scale": {"domain": [-3.14159265, 3.14159265], "nice": false, "zero": false}, "axis": {"values": [-3.14159265, 0, 3.14159265], "labelExpr": "datum.value < -1 ? '−π' : (datum.value > 1 ? 'π' : '0')", "grid": true, "gridColor": "#b0b0b0", "gridWidth": 1.1, "gridOpacity": {"condition": {"test": "abs(datum.value) > 1", "value": 0}, "value": 1}, "title": null}},
    "y": {"field": "p", "type": "quantitative", "scale": {"domain": [0, 1], "nice": false, "zero": false}, "axis": {"values": [0, 0.5, 1], "format": ".1f", "title": null}},
    "color": {"datum": "Power", "type": "nominal", "scale": {"domain": ["Power"], "range": ["#1f77b4"]}, "legend": null}}},
  {"data": {"values": [{"label": "scale = 10"}]}, "mark": {"type": "text", "align": "left", "baseline": "alphabetic", "fontSize": 13.9, "color": "black"},
   "encoding": {"x": {"datum": 1.5708}, "y": {"datum": 0.5}, "text": {"field": "label"}}}
 ]},
{"width": 440, "height": 68,
 "layer": [
  {"data": {"name": "filt"}, "transform": [{"filter": "datum.scale == 15"}, {"fold": ["real", "imaginary"], "as": ["part", "value"]}], "mark": {"type": "line", "strokeWidth": 2.08, "clip": true},
   "encoding": {"x": {"field": "t", "type": "quantitative", "scale": {"domain": [-121, 120], "nice": false, "zero": false}, "axis": {"values": [-100, -50, 0, 50, 100], "format": "d", "title": "time (samples)"}},
    "y": {"field": "value", "type": "quantitative", "scale": {"domain": [-1, 1], "nice": false, "zero": false}, "axis": {"values": [-1, 0, 1], "labelExpr": "datum.value > 0.5 ? '1' : (datum.value < -0.5 ? '−1' : '0')", "labelOverlap": false, "title": null}},
    "color": {"field": "part", "type": "nominal", "scale": {"domain": ["real", "imaginary"], "range": ["#1f77b4", "#ff7f0e"]}, "legend": null}}},
  {"data": {"values": [{"label": "scale = 15"}]}, "mark": {"type": "text", "align": "left", "baseline": "alphabetic", "fontSize": 13.9, "color": "black"},
   "encoding": {"x": {"datum": 50}, "y": {"datum": 0.35}, "text": {"field": "label"}}},
  {"data": {"values": [{"tick": "0"}]}, "mark": {"type": "text", "align": "right", "baseline": "middle", "dx": -9.8, "fontSize": 13.9, "color": "black", "clip": false},
   "encoding": {"x": {"datum": -121}, "y": {"datum": 0}, "text": {"field": "tick"}}}
 ]},
{"width": 440, "height": 68,
 "layer": [
  {"data": {"name": "pow"}, "transform": [{"filter": "datum.scale == 15"}], "mark": {"type": "line", "strokeWidth": 2.08, "clip": true, "interpolate": "monotone"},
   "encoding": {"x": {"field": "f", "type": "quantitative", "scale": {"domain": [-3.14159265, 3.14159265], "nice": false, "zero": false}, "axis": {"values": [-3.14159265, 0, 3.14159265], "labelExpr": "datum.value < -1 ? '−π' : (datum.value > 1 ? 'π' : '0')", "grid": true, "gridColor": "#b0b0b0", "gridWidth": 1.1, "gridOpacity": {"condition": {"test": "abs(datum.value) > 1", "value": 0}, "value": 1}, "title": "frequency (radians)"}},
    "y": {"field": "p", "type": "quantitative", "scale": {"domain": [0, 1], "nice": false, "zero": false}, "axis": {"values": [0, 0.5, 1], "format": ".1f", "title": null}},
    "color": {"datum": "Power", "type": "nominal", "scale": {"domain": ["Power"], "range": ["#1f77b4"]}, "legend": null}}},
  {"data": {"values": [{"label": "scale = 15"}]}, "mark": {"type": "text", "align": "left", "baseline": "alphabetic", "fontSize": 13.9, "color": "black"},
   "encoding": {"x": {"datum": 1.5708}, "y": {"datum": 0.5}, "text": {"field": "label"}}}
 ]}
]
}
